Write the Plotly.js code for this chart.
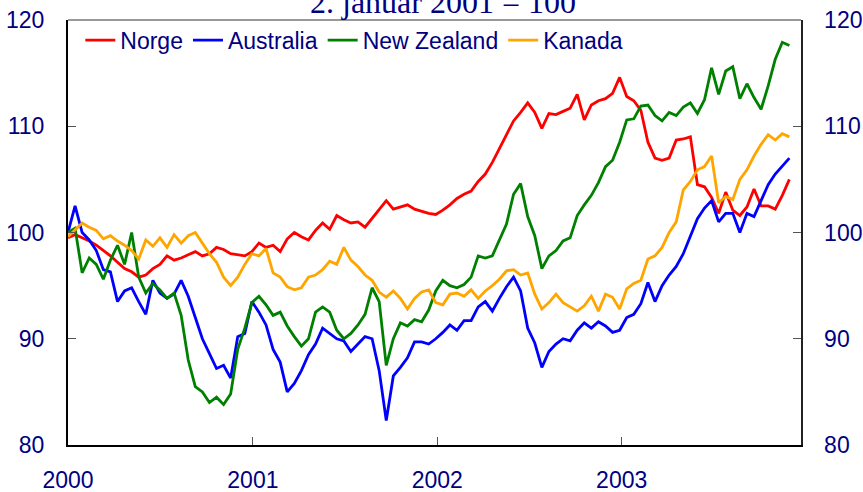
<!DOCTYPE html>
<html>
<head>
<meta charset="utf-8">
<script src="https://cdn.plot.ly/plotly-3.0.1.min.js"></script>
<style>
html,body{margin:0;padding:0;background:#ffffff;}
#chart{width:863px;height:492px;}
</style>
</head>
<body>
<div id="chart"></div>
<script>
// Sampling: one value every 14 days starting 2000-01-01
const startDate = '2000-01-01';
const stepDays = 14;

const seriesNames = ['Norge', 'Australia', 'New Zealand', 'Kanada'];
const seriesColors = ['#ff0000', '#0000ff', '#008000', '#ffa500'];

const norge = [
  99.5, 99.8, 99.5, 99.2, 98.8, 98.3, 97.8, 97.2, 96.6, 96.3, 95.8, 96.0, 96.6, 97.0, 97.8, 97.4, 97.6, 97.9,
  98.2, 97.8, 98.0, 98.6, 98.4, 98.0, 97.9, 97.8, 98.2, 99.0, 98.6, 98.8, 98.2, 99.4, 100.0, 99.6, 99.3,
  100.2, 100.9, 100.3, 101.6, 101.2, 100.9, 101.0, 100.5, 101.3, 102.2, 103.0, 102.2, 102.4, 102.6, 102.2, 102.0, 101.8,
  101.7, 102.1, 102.6, 103.2, 103.6, 103.9, 104.8, 105.5, 106.6, 107.9, 109.2, 110.5, 111.3, 112.2, 111.3, 109.8, 111.2,
  111.1, 111.4, 111.7, 113.0, 110.6, 112.0, 112.4, 112.6, 113.1, 114.6, 112.8, 112.4, 111.5, 108.5, 107.0, 106.8, 107.0,
  108.7, 108.8, 109.0, 104.5, 104.3, 103.3, 101.8, 103.8, 102.1, 101.6, 102.4, 104.1, 102.5, 102.5, 102.2, 103.5, 105.0
];

const australia = [
  100.0, 102.5, 100.0, 99.3, 98.3, 96.5, 96.3, 93.5, 94.5, 94.8, 93.5, 92.3, 95.5, 94.3, 93.8, 94.2, 95.5, 94.0,
  92.0, 90.0, 88.6, 87.2, 87.5, 86.3, 90.2, 90.5, 93.5, 92.5, 91.3, 89.0, 87.8, 85.0, 85.8, 87.0, 88.5,
  89.5, 91.0, 90.5, 90.0, 89.8, 88.8, 89.5, 90.2, 90.0, 87.0, 82.3, 86.5, 87.3, 88.2, 89.7, 89.7, 89.5,
  90.0, 90.6, 91.3, 90.8, 91.7, 91.7, 93.0, 93.5, 92.6, 93.8, 94.9, 95.8, 94.5, 91.0, 89.6, 87.3, 88.8,
  89.5, 90.0, 89.8, 90.8, 91.5, 91.0, 91.6, 91.2, 90.6, 90.8, 92.0, 92.3, 93.3, 95.3, 93.5, 95.0, 96.0,
  96.8, 98.0, 99.6, 101.3, 102.3, 103.0, 101.0, 101.8, 101.8, 100.0, 101.8, 101.5, 103.0, 104.5, 105.5, 106.2, 107.0
];

const newZealand = [
  100.0, 100.4, 96.2, 97.6, 97.0, 95.6, 97.4, 98.8, 97.0, 100.0, 95.8, 94.3, 95.2, 94.6, 93.8, 94.3, 92.2, 88.0,
  85.5, 85.0, 84.0, 84.5, 83.8, 84.8, 89.0, 91.0, 93.4, 94.0, 93.2, 92.2, 92.5, 91.2, 90.2, 89.3, 90.0,
  92.5, 93.0, 92.5, 90.8, 90.0, 90.5, 91.3, 92.3, 94.8, 93.5, 87.5, 90.0, 91.5, 91.2, 91.8, 91.6, 92.7,
  94.5, 95.5, 95.0, 94.8, 95.1, 95.8, 97.8, 97.6, 97.8, 99.3, 100.8, 103.6, 104.6, 101.5, 99.7, 96.6, 97.8,
  98.3, 99.2, 99.5, 101.6, 102.6, 103.5, 104.7, 106.2, 106.8, 108.5, 110.6, 110.7, 111.9, 112.0, 111.0, 110.5, 111.3,
  111.0, 111.8, 112.2, 111.2, 112.5, 115.5, 113.0, 115.2, 115.6, 112.6, 114.0, 112.7, 111.6, 113.8, 116.3, 117.9, 117.6
];

const kanada = [
  99.6, 100.3, 100.9, 100.5, 100.2, 99.4, 99.7, 99.2, 98.8, 98.3, 97.5, 99.3, 98.7, 99.5, 98.6, 99.8, 99.0, 99.7,
  100.0, 99.0, 98.0, 97.2, 95.8, 95.0, 95.8, 97.0, 98.0, 97.8, 98.5, 96.2, 95.8, 94.9, 94.6, 94.8, 95.8,
  96.0, 96.5, 97.3, 97.0, 98.6, 97.4, 96.8, 96.0, 95.5, 94.4, 93.9, 94.5, 93.8, 92.8, 93.8, 94.4, 94.6,
  93.4, 93.2, 94.2, 94.3, 94.0, 94.6, 93.8, 94.5, 95.0, 95.6, 96.4, 96.5, 96.0, 96.2, 94.2, 92.8, 93.4,
  94.2, 93.4, 93.0, 92.6, 93.1, 94.0, 92.6, 94.2, 93.9, 92.8, 94.7, 95.2, 95.5, 97.5, 97.8, 98.6, 100.0,
  101.0, 104.0, 104.8, 105.9, 106.2, 107.2, 102.8, 103.4, 103.1, 105.0, 105.9, 107.2, 108.3, 109.2, 108.7, 109.3, 109.0
];

const yTickVals = [80, 90, 100, 110, 120];
const yTickText = ['80', '90', '100', '110', '120'];
const xTickVals = ['2000-01-01', '2001-01-01', '2002-01-01', '2003-01-01'];
const xTickText = ['2000', '2001', '2002', '2003'];
const titleText = '2. januar 2001 = 100';

const t0 = Date.UTC(2000, 0, 1);
const dates = norge.map((_, i) => new Date(t0 + i * stepDays * 86400000).toISOString().slice(0, 10));

const allSeries = [norge, australia, newZealand, kanada];
const traces = allSeries.map((vals, k) => ({
  type: 'scatter', mode: 'lines', name: seriesNames[k],
  x: dates, y: vals,
  line: {color: seriesColors[k], width: 2.8},
  xaxis: 'x', yaxis: 'y', hoverinfo: 'skip'
}));
// invisible companion trace so the right-hand axis is drawn
traces.push({
  type: 'scatter', mode: 'lines', x: dates, y: norge, yaxis: 'y2', xaxis: 'x',
  line: {color: 'rgba(0,0,0,0)', width: 0}, showlegend: false, hoverinfo: 'skip'
});

const tickFont = {family: 'Arial, "Liberation Sans", sans-serif', size: 23, color: '#000080'};

const layout = {
  width: 863, height: 492,
  margin: {l: 68, r: 62, t: 20, b: 47, pad: 0},
  paper_bgcolor: '#ffffff', plot_bgcolor: '#ffffff',
  font: tickFont,
  showlegend: true,
  legend: {
    orientation: 'h', x: 0.0168, y: 1.003, xanchor: 'left', yanchor: 'top',
    bgcolor: 'rgba(0,0,0,0)', borderwidth: 0, font: tickFont, itemwidth: 30,
    traceorder: 'normal'
  },
  xaxis: {
    type: 'date', range: ['2000-01-01', '2003-12-22'],
    tickmode: 'array', tickvals: xTickVals, ticktext: xTickText,
    ticks: 'inside', ticklen: 8, tickwidth: 1, tickcolor: '#555555',
    showline: true, linecolor: '#000000', linewidth: 2,
    showgrid: false, zeroline: false, tickfont: tickFont, ticklabelstandoff: 13
  },
  yaxis: {
    range: [80, 120], tickmode: 'array', tickvals: yTickVals, ticktext: yTickText,
    ticks: 'inside', ticklen: 8, tickwidth: 1, tickcolor: '#555555',
    showline: true, linecolor: '#000000', linewidth: 2,
    showgrid: false, zeroline: false, tickfont: tickFont, ticklabelstandoff: 17
  },
  yaxis2: {
    overlaying: 'y', side: 'right', matches: 'y',
    range: [80, 120], tickmode: 'array', tickvals: yTickVals, ticktext: yTickText,
    ticks: 'inside', ticklen: 8, tickwidth: 1, tickcolor: '#555555',
    showline: true, linecolor: '#222222', linewidth: 1.5,
    showgrid: false, zeroline: false, tickfont: tickFont, ticklabelstandoff: 17
  },
  shapes: [{
    type: 'line', xref: 'paper', yref: 'paper', x0: 0, x1: 1, y0: 1, y1: 1,
    line: {color: '#333333', width: 1}
  }],
  annotations: [{
    text: titleText, xref: 'paper', yref: 'paper', x: 0.5116, y: 1,
    xanchor: 'center', yanchor: 'bottom', yshift: -2, showarrow: false,
    font: {family: '"Liberation Serif", "Times New Roman", serif', size: 32, color: '#000080'}
  }]
};

Plotly.newPlot('chart', traces, layout, {staticPlot: true, displayModeBar: false});
</script>
</body>
</html>
